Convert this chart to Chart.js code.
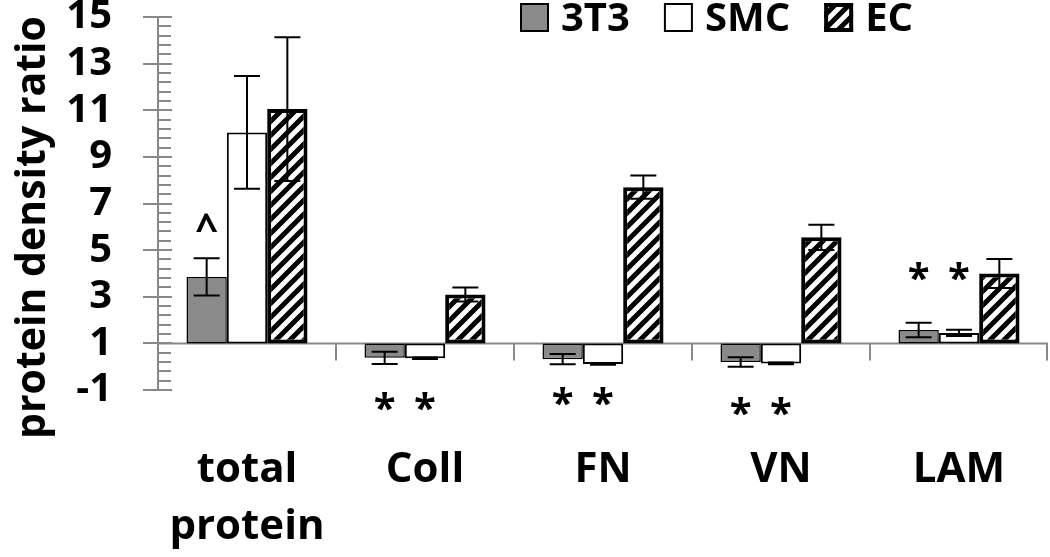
<!DOCTYPE html>
<html>
<head>
<meta charset="utf-8">
<script src="https://cdn.jsdelivr.net/npm/chart.js@4/dist/chart.umd.min.js"></script>
<style>
  html, body { margin: 0; padding: 0; background: #fff; }
  #wrap { width: 1050px; height: 557px; }
</style>
</head>
<body>
<div id="wrap"><canvas id="proteinChart" width="1050" height="557"></canvas></div>
<script>
const categories = [["total", "protein"], "Coll", "FN", "VN", "LAM"];
const values3T3 = [3.85, 0.38, 0.32, 0.2, 1.57];
const errors3T3 = [0.8, 0.26, 0.22, 0.2, 0.31];
const valuesSMC = [10.05, 0.36, 0.11, 0.14, 1.45];
const errorsSMC = [2.42, 0.03, 0.03, 0.04, 0.13];
const valuesEC = [11.05, 3.1, 7.7, 5.55, 4.0];
const errorsEC = [3.08, 0.3, 0.5, 0.54, 0.62];
const marks3T3 = ["^", "*", "*", "*", "*"];
const marksSMC = ["", "*", "*", "*", "*"];
const markLevels = [6.2, -1.5, -1.3, -1.7, 4.1];
const yTicks = [-1, 1, 3, 5, 7, 9, 11, 13, 15];
const baseValue = 1;
const minorStep = 0.4;
const yAxisTitle = "protein density ratio";

const FONT = "'Open Sans', 'DejaVu Sans', sans-serif";
const AXIS_GREY = "#888";

function makeHatch() {
  const c = document.createElement("canvas");
  c.width = 14;
  c.height = 14;
  const g = c.getContext("2d");
  g.fillStyle = "#fff";
  g.fillRect(0, 0, 14, 14);
  g.strokeStyle = "#000";
  g.lineWidth = 5;
  g.beginPath();
  g.moveTo(-4, 18); g.lineTo(18, -4);
  g.moveTo(-4, 4); g.lineTo(4, -4);
  g.moveTo(10, 18); g.lineTo(18, 10);
  g.stroke();
  return g.createPattern(c, "repeat");
}

const hatch = makeHatch();

// axis decorations, error bars, significance marks, legend, y title
const decorPlugin = {
  id: "decor",
  beforeDatasetsDraw(chart) {
    const { ctx, chartArea, scales } = chart;
    const x = scales.x;
    const y = scales.y;
    const y0 = y.getPixelForValue(baseValue);
    ctx.save();
    ctx.strokeStyle = AXIS_GREY;
    ctx.lineWidth = 2;
    ctx.beginPath();
    ctx.moveTo(chartArea.left, y0);
    ctx.lineTo(chartArea.right, y0);
    for (let i = 0; i < categories.length; i++) {
      const edge =
        i < categories.length - 1
          ? (x.getPixelForTick(i) + x.getPixelForTick(i + 1)) / 2
          : chartArea.right - 1;
      ctx.moveTo(edge, y0);
      ctx.lineTo(edge, y0 + 17);
    }
    // y ticks: major cross the axis, minor on the inside only
    const ax = chartArea.left;
    yTicks.forEach((v) => {
      const py = Math.round(y.getPixelForValue(v));
      ctx.moveTo(ax - 15, py);
      ctx.lineTo(ax + 14, py);
    });
    for (let k = 0; y.min + k * minorStep <= y.max + 1e-6; k++) {
      if (k % 5 === 0) continue;
      const py = Math.round(y.getPixelForValue(y.min + k * minorStep));
      ctx.moveTo(ax, py);
      ctx.lineTo(ax + 13, py);
    }
    ctx.stroke();
    ctx.restore();
  },
  afterDatasetsDraw(chart) {
    const { ctx, scales } = chart;
    const y = scales.y;
    ctx.save();
    ctx.strokeStyle = "#000";
    ctx.lineWidth = 2;
    chart.data.datasets.forEach((ds, di) => {
      const meta = chart.getDatasetMeta(di);
      meta.data.forEach((bar, i) => {
        const v = ds.data[i];
        const e = ds.errors[i];
        const top = y.getPixelForValue(v + e);
        const bot = y.getPixelForValue(v - e);
        ctx.beginPath();
        ctx.moveTo(bar.x, top);
        ctx.lineTo(bar.x, bot);
        ctx.moveTo(bar.x - 13, top);
        ctx.lineTo(bar.x + 13, top);
        ctx.moveTo(bar.x - 13, bot);
        ctx.lineTo(bar.x + 13, bot);
        ctx.stroke();

        const mark = ds.marks ? ds.marks[i] : "";
        if (mark) {
          ctx.fillStyle = "#000";
          ctx.font = `bold 40px ${FONT}`;
          ctx.textAlign = "center";
          ctx.textBaseline = "alphabetic";
          const m = ctx.measureText(mark);
          const cy = y.getPixelForValue(markLevels[i]);
          ctx.fillText(
            mark,
            bar.x,
            cy + (m.actualBoundingBoxAscent - m.actualBoundingBoxDescent) / 2,
          );
        }
      });
    });
    ctx.restore();
  },
  afterDraw(chart) {
    const { ctx, chartArea } = chart;
    ctx.save();
    // legend
    let lx = 520;
    const ly = 17.5;
    const box = 29;
    ctx.font = `bold 40px ${FONT}`;
    ctx.textBaseline = "middle";
    ctx.textAlign = "left";
    chart.data.datasets.forEach((ds) => {
      ctx.fillStyle = ds.backgroundColor;
      ctx.fillRect(lx, ly - box / 2, box, box);
      ctx.strokeStyle = "#000";
      ctx.lineWidth = ds.borderWidth > 2 ? 4 : 2;
      const ins = ctx.lineWidth / 2;
      ctx.strokeRect(lx + ins, ly - box / 2 + ins, box - 2 * ins, box - 2 * ins);
      ctx.fillStyle = "#000";
      ctx.fillText(ds.label, lx + box + 12, ly + 2);
      lx += box + 12 + ctx.measureText(ds.label).width + 34;
    });
    // y axis title
    ctx.font = `bold 41px ${FONT}`;
    ctx.translate(33, (chartArea.top + chartArea.bottom) / 2 + 24);
    ctx.rotate(-Math.PI / 2);
    ctx.textAlign = "center";
    ctx.textBaseline = "middle";
    ctx.fillText(yAxisTitle, 0, 0);
    ctx.restore();
  },
};

new Chart(document.getElementById("proteinChart"), {
  type: "bar",
  data: {
    labels: categories,
    datasets: [
      {
        label: "3T3",
        data: values3T3,
        errors: errors3T3,
        marks: marks3T3,
        backgroundColor: "#8a8a8a",
        borderColor: "#000",
        borderWidth: 1.5,
      },
      {
        label: "SMC",
        data: valuesSMC,
        errors: errorsSMC,
        marks: marksSMC,
        backgroundColor: "#ffffff",
        borderColor: "#000",
        borderWidth: 2,
      },
      {
        label: "EC",
        data: valuesEC,
        errors: errorsEC,
        backgroundColor: hatch,
        borderColor: "#000",
        borderWidth: 4,
      },
    ],
  },
  options: {
    responsive: false,
    animation: false,
    devicePixelRatio: 1,
    layout: { padding: { top: 17, right: 2, left: 0, bottom: 0 } },
    datasets: {
      bar: {
        base: baseValue,
        barPercentage: 1,
        categoryPercentage: 0.68,
        borderSkipped: false,
      },
    },
    plugins: {
      legend: { display: false },
      tooltip: { enabled: false },
    },
    scales: {
      x: {
        grid: { display: false, drawTicks: false },
        border: { display: false },
        ticks: {
          color: "#000",
          padding: 51,
          maxRotation: 0,
          autoSkip: false,
          font: { family: FONT, size: 42, weight: "bold", lineHeight: 1.36 },
        },
        afterFit: (scale) => {
          scale.height = 167;
          scale.paddingLeft = 0;
          scale.paddingRight = 0;
        },
      },
      y: {
        min: -1,
        max: 15,
        grid: { display: false, drawTicks: false },
        border: { display: true, color: AXIS_GREY, width: 2 },
        afterBuildTicks: (scale) => {
          scale.ticks = yTicks.map((v) => ({ value: v }));
        },
        ticks: {
          color: "#000",
          padding: 46,
          autoSkip: false,
          font: { family: FONT, size: 40, weight: "bold" },
        },
        afterFit: (scale) => {
          scale.width = 158;
          scale.paddingTop = 0;
          scale.paddingBottom = 0;
        },
      },
    },
  },
  plugins: [decorPlugin],
});
</script>
</body>
</html>
